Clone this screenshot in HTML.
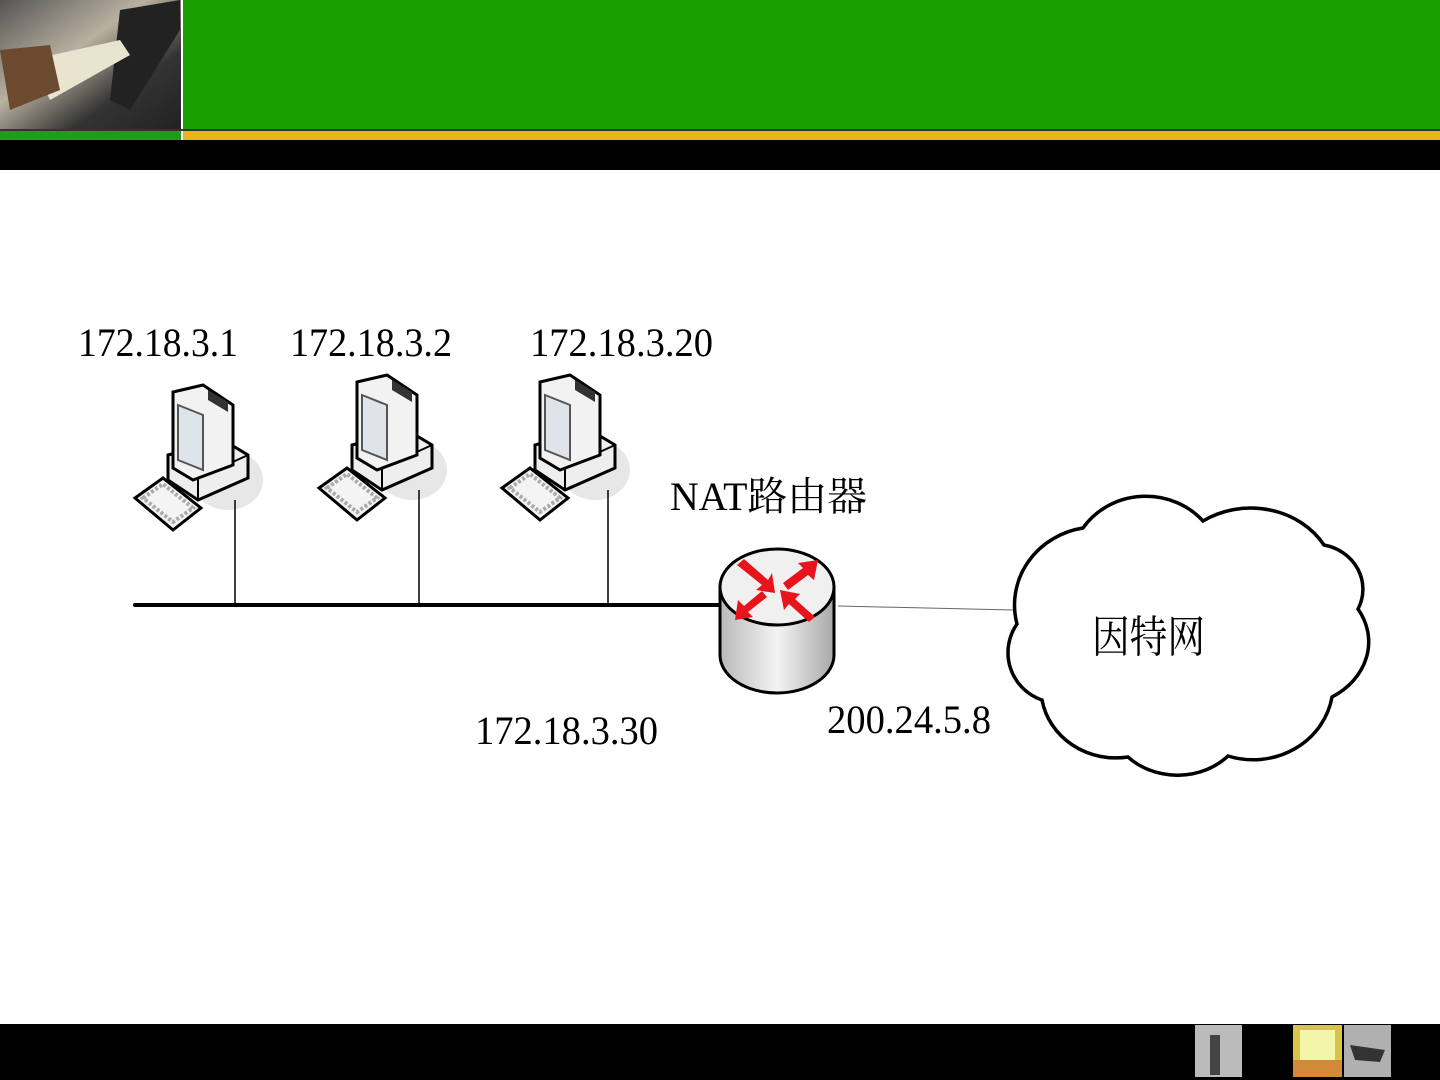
<!DOCTYPE html>
<html><head><meta charset="utf-8"><style>
html,body{margin:0;padding:0;width:1440px;height:1080px;overflow:hidden;background:#fff}
svg{display:block}
text{font-family:"Liberation Serif","Noto Serif CJK SC",serif}
</style></head><body>
<svg width="1440" height="1080" viewBox="0 0 1440 1080" xmlns="http://www.w3.org/2000/svg">
<defs>
<linearGradient id="photo" x1="0" y1="0" x2="1" y2="1">
<stop offset="0" stop-color="#555"/><stop offset="0.4" stop-color="#b9b0a0"/><stop offset="0.7" stop-color="#333"/><stop offset="1" stop-color="#222"/></linearGradient>
<linearGradient id="cyl" x1="0" y1="0" x2="1" y2="0">
<stop offset="0" stop-color="#b8b8b8"/><stop offset="0.5" stop-color="#f4f4f4"/><stop offset="1" stop-color="#a8a8a8"/></linearGradient>
<g id="pc">
<ellipse cx="95" cy="100" rx="35" ry="30" fill="#ddd" opacity="0.7"/>
<path d="M35 75 L90 60 L115 75 L115 98 L65 120 L35 100 Z" fill="#eee" stroke="#000" stroke-width="3"/>
<path d="M65 120 L65 98 L115 75" fill="none" stroke="#000" stroke-width="2"/>
<path d="M40 12 L70 5 L100 25 L100 85 L60 100 L40 88 Z" fill="#f2f2f2" stroke="#000" stroke-width="3"/>
<path d="M45 25 L70 35 L70 90 L45 80 Z" fill="#dfe4ea" stroke="#555" stroke-width="2"/>
<path d="M75 10 L95 22 L95 32 L75 20 Z" fill="#333"/>
<path d="M2 118 L30 98 L68 128 L40 150 Z" fill="#f4f4f4" stroke="#000" stroke-width="3"/>
<path d="M10 118 L30 104 L60 128 L40 142 Z" fill="none" stroke="#aaa" stroke-width="4" stroke-dasharray="3 2"/>
</g>
</defs>
<rect x="0" y="0" width="181" height="129" fill="url(#photo)"/>
<path d="M120 10 L180 0 L180 30 L130 110 L110 100 Z" fill="#222"/>
<path d="M30 60 L120 40 L130 55 L50 100 Z" fill="#e8e4d0"/>
<path d="M0 50 L50 45 L60 90 L10 110 Z" fill="#6b4a30"/>
<rect x="183" y="0" width="1257" height="129" fill="#1a9f01"/>
<rect x="0" y="129" width="1440" height="2" fill="#333"/>
<rect x="0" y="131" width="181" height="9" fill="#1ca012"/>
<rect x="183" y="131" width="1257" height="9" fill="#e8b513"/>
<rect x="0" y="140" width="1440" height="30" fill="#000"/>
<rect x="0" y="1024" width="1440" height="56" fill="#000"/>
<rect x="1195" y="1025" width="47" height="52" fill="#bbb"/>
<rect x="1210" y="1035" width="10" height="40" fill="#444"/>
<rect x="1293" y="1025" width="49" height="52" fill="#d9c44a"/>
<rect x="1300" y="1030" width="35" height="30" fill="#f3f5a8"/>
<rect x="1293" y="1060" width="49" height="17" fill="#d28a3a"/>
<rect x="1344" y="1025" width="47" height="52" fill="#b0b0b0"/>
<path d="M1350 1045 L1385 1050 L1380 1062 L1355 1060 Z" fill="#333"/>
<g font-size="40" fill="#000">
<text x="78" y="356" textLength="160" lengthAdjust="spacingAndGlyphs">172.18.3.1</text>
<text x="290" y="356" textLength="162" lengthAdjust="spacingAndGlyphs">172.18.3.2</text>
<text x="530" y="356" textLength="183" lengthAdjust="spacingAndGlyphs">172.18.3.20</text>
<text x="670" y="510" textLength="197" lengthAdjust="spacingAndGlyphs">NAT路由器</text>
<text x="475" y="744" textLength="183" lengthAdjust="spacingAndGlyphs">172.18.3.30</text>
<text x="827" y="733" textLength="164" lengthAdjust="spacingAndGlyphs">200.24.5.8</text>
</g>
<use href="#pc" x="133" y="380"/>
<use href="#pc" x="317" y="370"/>
<use href="#pc" x="500" y="370"/>
<g stroke="#000" stroke-width="1.5">
<line x1="235" y1="500" x2="235" y2="603"/>
<line x1="419" y1="490" x2="419" y2="603"/>
<line x1="608" y1="490" x2="608" y2="603"/>
</g>
<line x1="135" y1="605" x2="722" y2="605" stroke="#000" stroke-width="4" stroke-linecap="round"/>
<line x1="838" y1="606" x2="1013" y2="610" stroke="#666" stroke-width="1"/>
<path d="M720 587 L720 655 A57 38 0 0 0 834 655 L834 587 Z" fill="url(#cyl)" stroke="#000" stroke-width="3"/>
<ellipse cx="777" cy="587" rx="57" ry="38" fill="#f0f0f0" stroke="#000" stroke-width="3"/>
<g fill="#e8141b">
<path d="M737 565 L744 559 L768 580 L772 573 L775 593 L756 590 L762 585 Z"/>
<path d="M783 583 L803 568 L798 563 L818 560 L814 580 L808 575 L788 590 Z"/>
<path d="M767 597 L748 612 L753 617 L735 620 L738 600 L744 606 L762 591 Z"/>
<path d="M815 617 L809 622 L789 604 L784 610 L780 590 L800 594 L795 599 Z"/>
</g>
<path d="M1083 528 A75 70 0 0 1 1203 521 A85 75 0 0 1 1324 545 A48 45 0 0 1 1358 609 A78 65 0 0 1 1332 697 A80 75 0 0 1 1228 756 A68 58 0 0 1 1128 757 A75 70 0 0 1 1042 700 A50 50 0 0 1 1017 624 A82 78 0 0 1 1083 528 Z" fill="#fff" stroke="#000" stroke-width="3.5"/>
<text x="1092" y="652" font-size="44" textLength="113" lengthAdjust="spacingAndGlyphs">因特网</text>
</svg>
</body></html>
